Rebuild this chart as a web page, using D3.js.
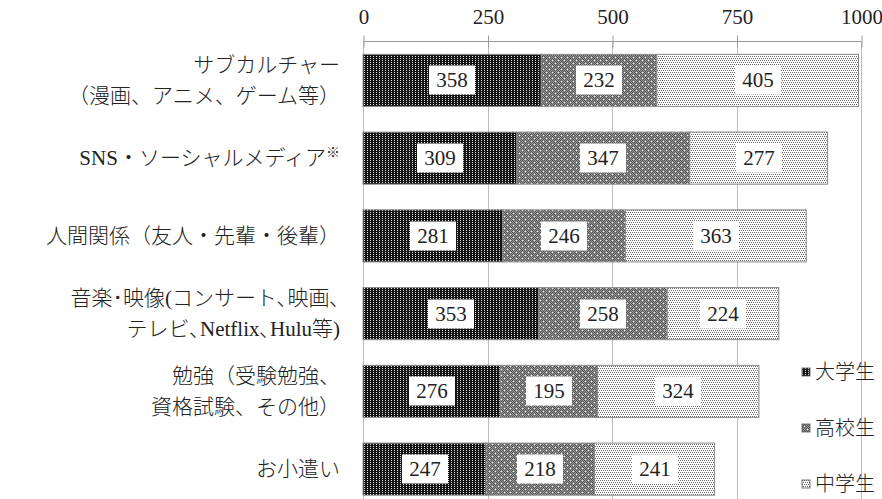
<!DOCTYPE html>
<html>
<head>
<meta charset="utf-8">
<script src="https://cdn.jsdelivr.net/npm/d3@7"></script>
<style>
  html, body { margin: 0; padding: 0; background: #fff; }
  svg { display: block; }
  text { font-family: "Liberation Serif", "Noto Sans CJK JP", serif; fill: #222; font-weight: 400; }
  .cjk { font-weight: 300; }
</style>
</head>
<body>
<svg id="chart" width="882" height="499"></svg>
<script>
// Categories (one row each; multi-line labels split into lines)
const categories = [
  ["サブカルチャー", "（漫画、アニメ、ゲーム等）"],
  ["SNS・ソーシャルメディア※"],
  ["人間関係（友人・先輩・後輩）"],
  ["音楽･映像(コンサート､映画､", "テレビ､Netflix､Hulu等)"],
  ["勉強（受験勉強、", "資格試験、その他）"],
  ["お小遣い"]
];
const seriesNames = ["大学生", "高校生", "中学生"];
const university = [358, 309, 281, 353, 276, 247];
const highSchool = [232, 347, 246, 258, 195, 218];
const juniorHigh = [405, 277, 363, 224, 324, 241];
const tickValues = [0, 250, 500, 750, 1000];

const svg = d3.select("#chart");
const W = 882, H = 499;
const left = 363, right = 861, axisY = 41.5;

// Fill patterns for the three groups
const defs = svg.append("defs");
function pattern(id, w, h, bg, dots) {
  const p = defs.append("pattern").attr("id", id).attr("patternUnits", "userSpaceOnUse")
    .attr("width", w).attr("height", h);
  p.append("rect").attr("width", w).attr("height", h).attr("fill", bg);
  dots.forEach(([x, y, c]) => p.append("rect").attr("x", x).attr("y", y)
    .attr("width", 1).attr("height", 1).attr("fill", c));
}
pattern("pat0", 3, 2, "#141414", [[1, 0, "#e0e0e0"]]);
const g1 = [];
for (let yy = 0; yy < 6; yy++) for (let xx = 0; xx < 6; xx++) {
  if ((xx + yy) % 2 === 1) g1.push([xx, yy, "#999999"]);
}
g1.push([0, 0, "#ffffff"], [3, 3, "#ffffff"]);
pattern("pat1", 6, 6, "#555555", g1);
pattern("pat2", 4, 4, "#ffffff", [[0, 0, "#666666"], [2, 0, "#666666"], [1, 2, "#666666"], [3, 2, "#666666"]]);
const fills = ["url(#pat0)", "url(#pat1)", "url(#pat2)"];

const x = d3.scaleLinear().domain([0, 1000]).range([left, right]);
const y = d3.scaleBand().domain(d3.range(categories.length))
  .range([axisY, axisY + 6 * 77.75]).paddingInner(0.33).paddingOuter(0.165);

// Vertical gridlines
svg.append("g").selectAll("line").data(tickValues).join("line")
  .attr("x1", d => Math.round(x(d)) + 0.5).attr("x2", d => Math.round(x(d)) + 0.5)
  .attr("y1", axisY).attr("y2", H)
  .attr("stroke", "#bdbdbd").attr("stroke-width", 1);

// Top axis
const axis = d3.axisTop(x).tickValues(tickValues).tickSize(6).tickPadding(6)
  .tickFormat(d3.format("d"));
const ag = svg.append("g").attr("transform", `translate(0.5,${axisY})`).call(axis);
ag.select(".domain").attr("stroke", "#9a9a9a").attr("d", `M${left},0H${right}`);
ag.selectAll(".tick line").attr("stroke", "#9a9a9a").attr("y2", 6).attr("y1", -6);
ag.selectAll(".tick text").attr("font-size", 21).attr("fill", "#333")
  .attr("y", -24).attr("dy", "0.32em");

// Stack the three series
const rows = categories.map((c, i) => ({ i, values: [university[i], highSchool[i], juniorHigh[i]] }));
const segs = [];
rows.forEach(r => {
  let acc = 0;
  r.values.forEach((v, k) => { segs.push({ row: r.i, k, v, x0: acc, x1: acc + v }); acc += v; });
});

svg.append("g").selectAll("rect").data(segs).join("rect")
  .attr("x", d => x(d.x0)).attr("width", d => x(d.x1) - x(d.x0))
  .attr("y", d => y(d.row)).attr("height", y.bandwidth())
  .attr("fill", d => fills[d.k]).attr("stroke", "#8a8a8a").attr("stroke-width", 1);

// Value labels in white boxes
const lg = svg.append("g");
segs.forEach(d => {
  const cx = Math.round((x(d.x0) + x(d.x1)) / 2), cy = Math.round(y(d.row) + y.bandwidth() / 2);
  const g = lg.append("g");
  const box = g.append("rect").attr("fill", "#fff");
  const t = g.append("text").attr("x", cx).attr("y", cy + 7)
    .attr("text-anchor", "middle").attr("font-size", 21).attr("fill", "#333").text(d.v);
  const w = Math.round(t.node().getComputedTextLength() + 14);
  box.attr("x", cx - w / 2).attr("y", cy - 14.5).attr("width", w).attr("height", 29);
});

// Category labels
const cg = svg.append("g");
categories.forEach((lines, i) => {
  const cy = y(i) + y.bandwidth() / 2;
  const n = lines.length;
  lines.forEach((line, j) => {
    const t = cg.append("text").attr("class", "cjk").attr("x", 340)
      .attr("y", Math.round(cy + (j - (n - 1) / 2) * 31) + 7)
      .attr("text-anchor", "end").attr("font-size", 21).attr("fill", "#222");
    if (line.endsWith("※")) {
      t.append("tspan").text(line.slice(0, -1));
      t.append("tspan").attr("font-size", 14).attr("dy", "-0.6em").text("※");
    } else {
      t.text(line);
    }
  });
});

// Legend
const legY = [372, 428, 484];
const leg = svg.append("g");
seriesNames.forEach((name, k) => {
  leg.append("rect").attr("x", 802).attr("y", legY[k] - 4).attr("width", 8).attr("height", 8)
    .attr("fill", fills[k]).attr("stroke", "#555").attr("stroke-width", 0.8);
  leg.append("text").attr("class", "cjk").attr("x", 815).attr("y", legY[k] + 7)
    .attr("font-size", 20).attr("fill", "#222").text(name);
});
</script>
</body>
</html>
